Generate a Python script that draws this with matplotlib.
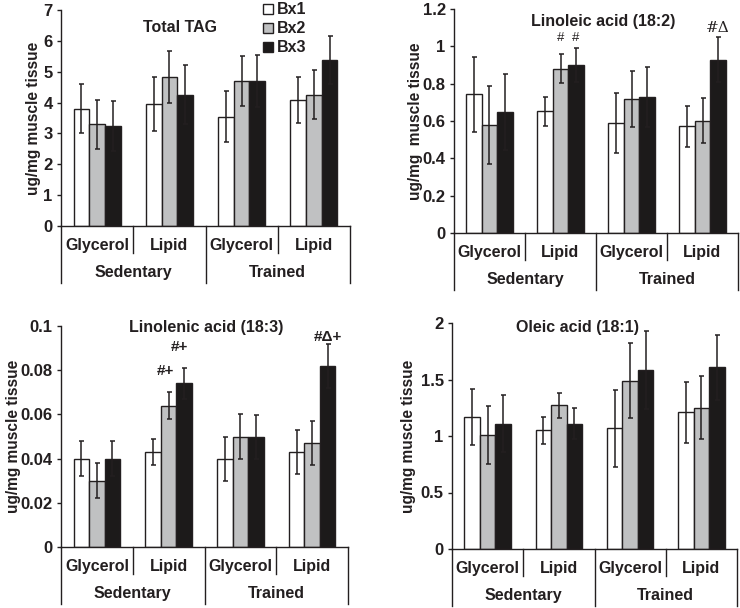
import numpy as np
import matplotlib
matplotlib.use('Agg')
import matplotlib.pyplot as plt
from matplotlib.patches import Patch

plt.rcParams['font.family'] = ['Liberation Sans', 'DejaVu Sans']
plt.rcParams['font.weight'] = 'bold'

INK = '#231f20'
COLORS = ['white', '#c0c1c2', '#1c1a1a']

# ---------------- data ----------------
groups = ['Glycerol', 'Lipid', 'Glycerol', 'Lipid']
conditions = ['Sedentary', 'Trained']
series = ['Bx1', 'Bx2', 'Bx3']

tag_bx1 = [3.80, 3.96, 3.54, 4.08]
tag_bx2 = [3.29, 4.82, 4.71, 4.26]
tag_bx3 = [3.23, 4.26, 4.71, 5.39]
tag_err1 = [0.80, 0.88, 0.83, 0.74]
tag_err2 = [0.80, 0.85, 0.81, 0.80]
tag_err3 = [0.81, 0.96, 0.84, 0.78]

la_bx1 = [0.742, 0.651, 0.591, 0.571]
la_bx2 = [0.580, 0.881, 0.719, 0.601]
la_bx3 = [0.648, 0.899, 0.728, 0.929]
la_err1 = [0.200, 0.080, 0.160, 0.110]
la_err2 = [0.210, 0.080, 0.150, 0.120]
la_err3 = [0.205, 0.092, 0.160, 0.120]

ln_bx1 = [0.040, 0.043, 0.040, 0.043]
ln_bx2 = [0.030, 0.064, 0.050, 0.047]
ln_bx3 = [0.040, 0.074, 0.0497, 0.082]
ln_err1 = [0.008, 0.006, 0.010, 0.010]
ln_err2 = [0.008, 0.006, 0.010, 0.010]
ln_err3 = [0.008, 0.007, 0.010, 0.010]

ol_bx1 = [1.17, 1.05, 1.07, 1.21]
ol_bx2 = [1.01, 1.27, 1.49, 1.25]
ol_bx3 = [1.11, 1.11, 1.58, 1.61]
ol_err1 = [0.25, 0.12, 0.34, 0.27]
ol_err2 = [0.255, 0.11, 0.33, 0.28]
ol_err3 = [0.25, 0.136, 0.345, 0.287]

tag_ticks = [0, 1, 2, 3, 4, 5, 6, 7]
tag_ticklabels = ['0', '1', '2', '3', '4', '5', '6', '7']
la_ticks = [0, 0.2, 0.4, 0.6, 0.8, 1.0, 1.2]
la_ticklabels = ['0', '0.2', '0.4', '0.6', '0.8', '1', '1.2']
ln_ticks = [0, 0.02, 0.04, 0.06, 0.08, 0.1]
ln_ticklabels = ['0', '0.02', '0.04', '0.06', '0.08', '0.1']
ol_ticks = [0, 0.5, 1.0, 1.5, 2.0]
ol_ticklabels = ['0', '0.5', '1', '1.5', '2']

# ---------------- figure ----------------
W, H = 740, 608
fig = plt.figure(figsize=(W / 100, H / 100), dpi=100)


def px_axes(x0, x1, ytop, y0):
    return fig.add_axes([x0 / W, (H - y0) / H, (x1 - x0) / W, (y0 - ytop) / H])


BW = 0.217


def panel(ax, vals, errs, ymax, ticks, ticklabels, ylabel, ylab_x):
    x = np.arange(len(groups))
    for i, (v, e) in enumerate(zip(vals, errs)):
        ax.bar(x + (i - 1) * BW, v, BW, color=COLORS[i], edgecolor=INK,
               linewidth=1.0, zorder=2)
        ax.errorbar(x + (i - 1) * BW, v, yerr=e, fmt='none', ecolor=INK,
                    elinewidth=1.1, capsize=1.8, capthick=1.1, zorder=3)
    ax.set_xlim(-0.5, 3.5)
    ax.set_ylim(0, ymax)
    ax.set_yticks(ticks)
    ax.set_yticklabels(ticklabels, fontsize=12, fontweight='bold', color=INK)
    ax.tick_params(axis='y', direction='out', length=3, width=1.0, color=INK, pad=3)
    ax.tick_params(axis='x', length=0, labelbottom=False)
    for s in ['top', 'right']:
        ax.spines[s].set_visible(False)
    for s in ['left', 'bottom']:
        ax.spines[s].set_color(INK)
        ax.spines[s].set_linewidth(1.0)
    ax.set_ylabel(ylabel, fontsize=11.2, fontweight='bold', color=INK)
    ax.yaxis.set_label_coords(ylab_x, 0.5)

    # category axis below
    hpx = ax.get_position().height * H
    tr = ax.get_xaxis_transform()
    d_short, d_long = 27 / hpx, 57 / hpx
    for b in [-0.5, 1.5, 3.5]:
        ax.plot([b, b], [0, -d_long], color=INK, lw=1.0, transform=tr, clip_on=False)
    for b in [0.5, 2.5]:
        ax.plot([b, b], [0, -d_short], color=INK, lw=1.0, transform=tr, clip_on=False)
    for i, g in enumerate(groups):
        ax.text(i, -19.5 / hpx, g, transform=tr, ha='center', va='center',
                fontsize=11.5, fontweight='bold', color=INK)
    for j, c in enumerate(conditions):
        ax.text(0.5 + 2 * j, -46.5 / hpx, c, transform=tr, ha='center', va='center',
                fontsize=11.5, fontweight='bold', color=INK)


ax1 = px_axes(61, 350, 10, 226)
panel(ax1, [tag_bx1, tag_bx2, tag_bx3], [tag_err1, tag_err2, tag_err3], 7,
      tag_ticks, tag_ticklabels, 'ug/mg muscle tissue', -0.069)
ax1.text(0.412, 0.917, 'Total TAG', transform=ax1.transAxes, ha='center', va='center',
         fontsize=11.5, fontweight='bold', color=INK)
handles = [Patch(facecolor=COLORS[i], edgecolor=INK, linewidth=1.0) for i in range(3)]
leg = ax1.legend(handles, series, loc='upper left', bbox_to_anchor=(0.70, 1.035),
                 frameon=False, fontsize=11.5, handlelength=0.6, handleheight=0.6,
                 handletextpad=0.25, labelspacing=0.25, borderpad=0, borderaxespad=0)
for t in leg.get_texts():
    t.set_fontweight('bold')
    t.set_color(INK)

ax2 = px_axes(454, 738, 9, 233)
panel(ax2, [la_bx1, la_bx2, la_bx3], [la_err1, la_err2, la_err3], 1.2,
      la_ticks, la_ticklabels, 'ug/mg  muscle tissue', -0.109)
ax2.text(0.526, 0.946, 'Linoleic acid (18:2)', transform=ax2.transAxes, ha='center',
         va='center', fontsize=11.5, fontweight='bold', color=INK)
ax2.text(1, 1.045, '#', ha='center', va='center', fontsize=9.5, fontweight='normal', color=INK)
ax2.text(1 + BW, 1.045, '#', ha='center', va='center', fontsize=9.5, fontweight='normal', color=INK)
ax2.text(3 + BW, 1.10, '#Δ', ha='center', va='center', fontsize=11, fontweight='normal',
         color=INK, family=['DejaVu Serif'])

ax3 = px_axes(61, 348, 326, 547)
panel(ax3, [ln_bx1, ln_bx2, ln_bx3], [ln_err1, ln_err2, ln_err3], 0.1,
      ln_ticks, ln_ticklabels, 'ug/mg muscle tissue', -0.139)
ax3.text(0.505, 0.995, 'Linolenic acid (18:3)', transform=ax3.transAxes, ha='center',
         va='center', fontsize=11.5, fontweight='bold', color=INK)
ax3.text(1 - 0.04, 0.0796, '#+', ha='center', va='center', fontsize=11, fontweight='bold', color=INK)
ax3.text(1 + BW - 0.07, 0.0905, '#+', ha='center', va='center', fontsize=11, fontweight='bold', color=INK)
ax3.text(3 + BW, 0.095, '#Δ+', ha='center', va='center', fontsize=11, fontweight='bold', color=INK)

ax4 = px_axes(452, 737, 323, 549)
panel(ax4, [ol_bx1, ol_bx2, ol_bx3], [ol_err1, ol_err2, ol_err3], 2,
      ol_ticks, ol_ticklabels, 'ug/mg muscle tissue', -0.126)
ax4.text(0.44, 0.978, 'Oleic acid (18:1)', transform=ax4.transAxes, ha='center',
         va='center', fontsize=11.5, fontweight='bold', color=INK)

fig.savefig('out.png', dpi=100)
